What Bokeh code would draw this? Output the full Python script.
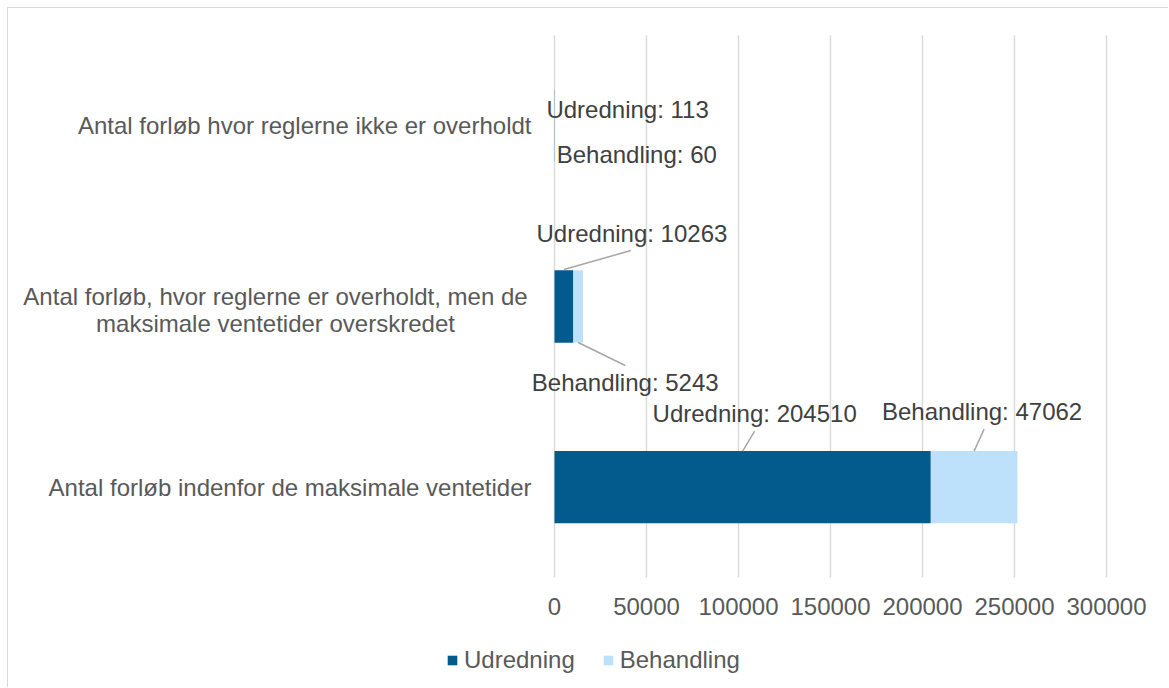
from bokeh.plotting import figure
from bokeh.models import (ColumnDataSource, LabelSet, Legend, LegendItem, Range1d)
from bokeh.core.properties import value
from bokeh.embed import file_html
from bokeh.resources import INLINE

# ---- data ----
categories = [
    "Antal forløb indenfor de maksimale ventetider",
    "Antal forløb, hvor reglerne er overholdt, men de\nmaksimale ventetider overskredet",
    "Antal forløb hvor reglerne ikke er overholdt",
]
udredning = [204510, 10263, 113]
behandling = [47062, 5243, 60]
series_names = ["Udredning", "Behandling"]
x_ticks = [0, 50000, 100000, 150000, 200000, 250000, 300000]
x_tick_labels = ["0", "50000", "100000", "150000", "200000", "250000", "300000"]

# ---- layout / style (canvas pixels) ----
W, H = 1161, 680
X_MAX = 300000
PA_LEFT, PA_W = 546, 552        # plot area: x = 0 .. X_MAX
PA_TOP, PA_H = 27, 542          # plot area: y = 0 .. n categories
DARK, LIGHT = "#035A8D", "#BDE1FA"
FONT = "Liberation Sans"
AXIS_COL = "#595959"
LABEL_COL = "#404040"
GRID_COL = "#D9D9D9"
LINE_H = 27

n = len(categories)
ypos = [i + 0.5 for i in range(n)]
px_x = X_MAX / PA_W
px_y = n / PA_H

p = figure(width=W, height=H, output_backend="svg", toolbar_location=None,
           title=None, x_axis_location=None, y_axis_location=None,
           x_range=Range1d(-PA_LEFT * px_x, X_MAX + (W - PA_LEFT - PA_W) * px_x),
           y_range=Range1d(-(H - PA_TOP - PA_H) * px_y, n + PA_TOP * px_y),
           min_border=0)
p.outline_line_color = None
p.xgrid.visible = False
p.ygrid.visible = False
p.styles = {"margin-left": "7px", "margin-top": "7px",
            "border-left": "1px solid #d9d9d9", "border-top": "1px solid #d9d9d9"}

# vertical grid lines at the value ticks
p.segment(x0=x_ticks, y0=[0] * len(x_ticks), x1=x_ticks, y1=[n] * len(x_ticks),
          line_color=GRID_COL, line_width=1.4)

# stacked bars
src = ColumnDataSource(dict(y=ypos, u=udredning, b=behandling,
                            ub=[a + b for a, b in zip(udredning, behandling)]))
r1 = p.hbar(y="y", left=0, right="u", height=0.4, source=src,
            fill_color=DARK, line_color=None)
r2 = p.hbar(y="y", left="u", right="ub", height=0.4, source=src,
            fill_color=LIGHT, line_color=None)

# value-axis tick labels
tsrc = ColumnDataSource(dict(x=x_ticks, y=[0] * len(x_ticks), t=x_tick_labels))
p.add_layout(LabelSet(x="x", y="y", text="t", source=tsrc, y_offset=-29,
                      text_font=value(FONT), text_font_size="24px",
                      text_color=AXIS_COL, text_align="center",
                      text_baseline="middle"))

# category labels (multi-line labels are centred line by line)
cat_align = ["right", "center", "right"]
cat_dx = [-23, -279, -23]
cat_dy = [0, -3, 0]
cx, cy, ct, cal, cdx, cdy = [], [], [], [], [], []
for i, c in enumerate(categories):
    lines = c.split("\n")
    m = len(lines)
    for k, line in enumerate(lines):
        cx.append(0); cy.append(ypos[i]); ct.append(line)
        cal.append(cat_align[i]); cdx.append(cat_dx[i])
        cdy.append(cat_dy[i] + ((m - 1) / 2 - k) * LINE_H)
csrc = ColumnDataSource(dict(x=cx, y=cy, t=ct, al=cal, dx=cdx, dy=cdy))
p.add_layout(LabelSet(x="x", y="y", text="t", source=csrc,
                      x_offset="dx", y_offset="dy", text_align="al",
                      text_font=value(FONT), text_font_size="24px",
                      text_color=AXIS_COL, text_baseline="middle"))

# data labels (offsets in screen px from segment centre)
lab_dx_u = [12, 68, 73]
lab_dy_u = [74, 73, 16]
lab_dx_b = [8, 47, 82]
lab_dy_b = [76, -76, -29]
lead_u = [(36, 12, 56), (37, 67, 56), None]     # (start dy, end dx, end dy)
lead_b = [(36, 10, 58), (-36, 47, -59), None]

cx_u = [u / 2 for u in udredning]
cx_b = [u + b / 2 for u, b in zip(udredning, behandling)]
lx, ly, lt, ldx, ldy = [], [], [], [], []
for i in range(n):
    lx += [cx_u[i], cx_b[i]]
    ly += [ypos[i], ypos[i]]
    lt += [f"{series_names[0]}: {udredning[i]}", f"{series_names[1]}: {behandling[i]}"]
    ldx += [lab_dx_u[i], lab_dx_b[i]]
    ldy += [lab_dy_u[i], lab_dy_b[i]]
lsrc = ColumnDataSource(dict(x=lx, y=ly, t=lt, dx=ldx, dy=ldy))
p.add_layout(LabelSet(x="x", y="y", text="t", x_offset="dx", y_offset="dy",
                      source=lsrc, text_font=value(FONT), text_font_size="24px",
                      text_color=LABEL_COL, text_align="center",
                      text_baseline="middle"))

x0, y0, x1, y1 = [], [], [], []
for cxs, leads in ((cx_u, lead_u), (cx_b, lead_b)):
    for i, ld in enumerate(leads):
        if ld is None:
            continue
        sdy, edx, edy = ld
        x0.append(cxs[i]); y0.append(ypos[i] + sdy * px_y)
        x1.append(cxs[i] + edx * px_x); y1.append(ypos[i] + edy * px_y)
p.segment(x0=x0, y0=y0, x1=x1, y1=y1, line_color="#A6A6A6", line_width=1.5)

legend = Legend(items=[LegendItem(label=series_names[0], renderers=[r1]),
                       LegendItem(label=series_names[1], renderers=[r2])],
                orientation="horizontal", location=(438, 14),
                label_text_font=FONT, label_text_font_size="24px",
                label_text_color=AXIS_COL, glyph_width=12, glyph_height=12,
                label_standoff=6, spacing=27, padding=0, margin=0,
                border_line_color=None, background_fill_alpha=0)
p.add_layout(legend)

open("out.html", "w").write(file_html(p, INLINE))
